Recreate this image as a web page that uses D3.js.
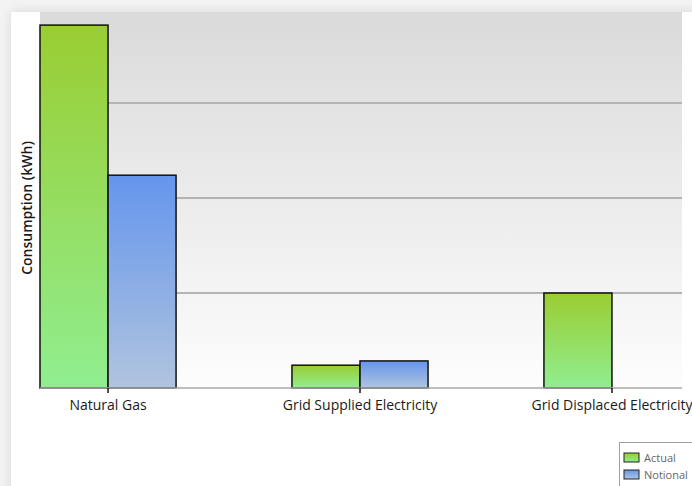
<!DOCTYPE html>
<html>
<head>
<meta charset="utf-8">
<script src="https://cdn.jsdelivr.net/npm/d3@7"></script>
<style>
  body { margin: 0; background: #f3f3f3; }
  svg { display: block; font-family: "Open Sans", "Noto Sans", sans-serif; }
</style>
</head>
<body>
<div id="chart"></div>
<script>
var categories = ["Natural Gas", "Grid Supplied Electricity", "Grid Displaced Electricity"]
var seriesNames = ["Actual", "Notional"]
var actualValues = [38200, 2400, 10000]
var notionalValues = [22400, 2850, 0]
var gridTicks = [10000, 20000, 30000, 40000]

var width = 692, height = 486

const svg = d3.select("#chart")
    .append("svg")
    .attr("width", width)
    .attr("height", height)

var defs = svg.append("defs")

var shadow = defs.append("filter").attr("id", "shadow")
    .attr("x", "-5%").attr("y", "-5%").attr("width", "110%").attr("height", "110%")
shadow.append("feGaussianBlur").attr("in", "SourceAlpha").attr("stdDeviation", 6)
shadow.append("feComponentTransfer").append("feFuncA").attr("type", "linear").attr("slope", 0.12)
var merge = shadow.append("feMerge")
merge.append("feMergeNode")
merge.append("feMergeNode").attr("in", "SourceGraphic")

function vGrad(id, top, bottom) {
    var g = defs.append("linearGradient").attr("id", id)
        .attr("x1", 0).attr("y1", 0).attr("x2", 0).attr("y2", 1)
    g.append("stop").attr("offset", "0%").attr("stop-color", top)
    g.append("stop").attr("offset", "100%").attr("stop-color", bottom)
}
vGrad("plotBg", "#dadada", "#fdfdfd")
vGrad("gradActual", "#9acd32", "#90ee90")
vGrad("gradNotional", "#6495ed", "#b0c4de")

// white card
svg.append("rect")
    .attr("x", 11).attr("y", 12)
    .attr("width", width).attr("height", height)
    .attr("fill", "#fff")
    .attr("filter", "url(#shadow)")

var plotLeft = 40, plotRight = 682, plotTop = 12, plotBottom = 388

var yScale = d3.scaleLinear()
    .domain([0, 40000])
    .range([plotBottom, 8])

var xScale = d3.scaleBand()
    .domain(categories)
    .range([plotLeft, 680])
    .paddingInner(0.46)
    .paddingOuter(0)

var xSub = d3.scaleBand()
    .domain(seriesNames)
    .range([0, xScale.bandwidth()])

svg.append("rect")
    .attr("x", plotLeft).attr("y", plotTop)
    .attr("width", plotRight - plotLeft).attr("height", plotBottom - plotTop)
    .attr("fill", "url(#plotBg)")

svg.append("g")
    .selectAll("line")
    .data(gridTicks.filter(t => yScale(t) > plotTop))
    .enter()
    .append("line")
    .attr("x1", plotLeft).attr("x2", plotRight)
    .attr("y1", d => yScale(d)).attr("y2", d => yScale(d))
    .attr("stroke", "#b4b4b4")
    .attr("stroke-width", 2)

var rows = categories.map((c, i) => ({ cat: c, values: [
    { key: "Actual", value: actualValues[i] },
    { key: "Notional", value: notionalValues[i] }
] }))

svg.append("g")
    .selectAll("g")
    .data(rows)
    .enter()
    .append("g")
    .attr("transform", d => "translate(" + xScale(d.cat) + ",0)")
    .selectAll("rect")
    .data(d => d.values.filter(v => v.value > 0))
    .enter()
    .append("rect")
    .attr("x", d => xSub(d.key))
    .attr("y", d => yScale(d.value))
    .attr("width", xSub.bandwidth())
    .attr("height", d => yScale(0) - yScale(d.value))
    .attr("fill", d => d.key === "Actual" ? "url(#gradActual)" : "url(#gradNotional)")
    .attr("stroke", "#111")
    .attr("stroke-width", 1.5)

// baseline
svg.append("line")
    .attr("x1", plotLeft).attr("x2", plotRight)
    .attr("y1", plotBottom).attr("y2", plotBottom)
    .attr("stroke", "#a8a8a8")
    .attr("stroke-width", 1.5)

var xAxis = svg.append("g")
    .attr("transform", "translate(0," + plotBottom + ")")
    .call(d3.axisBottom(xScale).tickSize(5).tickPadding(7))
xAxis.select(".domain").remove()
xAxis.selectAll(".tick line").attr("stroke", "#111").attr("stroke-width", 1.5)
xAxis.selectAll(".tick text")
    .attr("font-size", 14)
    .attr("font-family", "'Open Sans', sans-serif")
    .attr("fill", "#1a1a1a")

svg.append("text")
    .attr("transform", "translate(32,208) rotate(-90)")
    .attr("text-anchor", "middle")
    .attr("font-size", 14)
    .attr("font-weight", 600)
    .attr("fill", "#1a1a1a")
    .text("Consumption (kWh)")

// legend
var legend = svg.append("g").attr("transform", "translate(619,442)")
legend.append("rect")
    .attr("x", 0.5).attr("y", 0.5)
    .attr("width", 90).attr("height", 60)
    .attr("fill", "#fff")
    .attr("stroke", "#a0a0a0")

var items = legend.selectAll("g.item")
    .data(seriesNames)
    .enter()
    .append("g")
    .attr("class", "item")
    .attr("transform", (d, i) => "translate(5," + (11 + i * 17) + ")")
items.append("rect")
    .attr("width", 15).attr("height", 9)
    .attr("fill", d => d === "Actual" ? "url(#gradActual)" : "url(#gradNotional)")
    .attr("stroke", "#222")
items.append("text")
    .attr("x", 20).attr("y", 9)
    .attr("font-size", 11)
    .attr("fill", "#666")
    .text(d => d)
</script>
</body>
</html>
